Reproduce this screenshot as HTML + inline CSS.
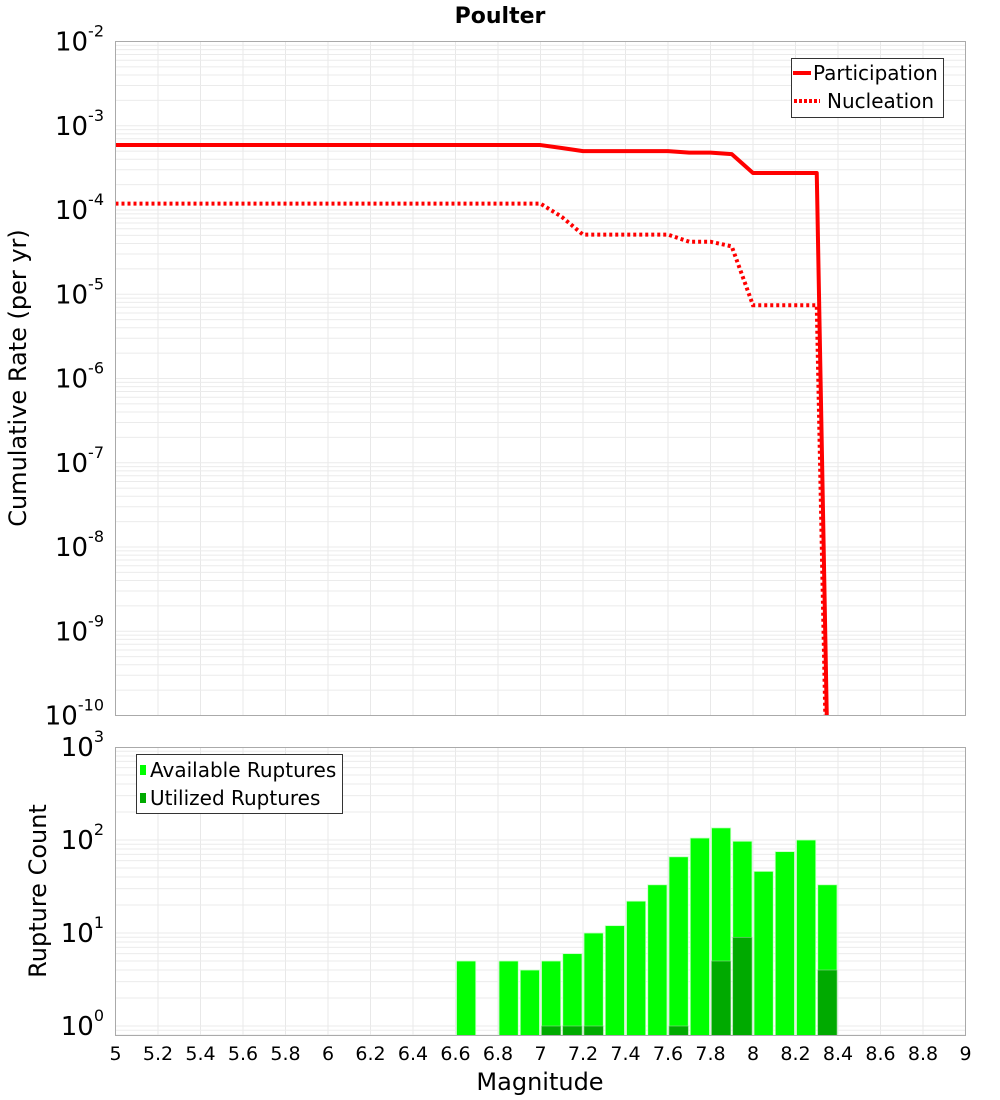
<!DOCTYPE html>
<html><head><meta charset="utf-8">
<style>
html,body{margin:0;padding:0;background:#fff;width:1000px;height:1100px;overflow:hidden;}
svg{display:block;font-family:"DejaVu Sans","Liberation Sans",sans-serif;}
</style></head>
<body>
<svg id="chart" width="1000" height="1100" viewBox="0 0 1000 1100" xmlns="http://www.w3.org/2000/svg">
<text x="500" y="23" text-anchor="middle" font-size="22" font-weight="bold">Poulter</text>
<text transform="translate(26,378) rotate(-90)" text-anchor="middle" font-size="24">Cumulative Rate (per yr)</text>
<text transform="translate(46,891) rotate(-90)" text-anchor="middle" font-size="24">Rupture Count</text>
<text x="540" y="1090" text-anchor="middle" font-size="24">Magnitude</text>
<g id="grid"></g>
<g id="marks"></g>
<g id="axes"></g>
</svg>
<script>
// ---- data ----
const mags = [5.0,5.1,5.2,5.3,5.4,5.5,5.6,5.7,5.8,5.9,6.0,6.1,6.2,6.3,6.4,6.5,6.6,6.7,6.8,6.9,7.0,7.1,7.2,7.3,7.4,7.5,7.6,7.7,7.8,7.9,8.0,8.1,8.2,8.3,8.4];
const participation = [5.9e-4,5.9e-4,5.9e-4,5.9e-4,5.9e-4,5.9e-4,5.9e-4,5.9e-4,5.9e-4,5.9e-4,5.9e-4,5.9e-4,5.9e-4,5.9e-4,5.9e-4,5.9e-4,5.9e-4,5.9e-4,5.9e-4,5.9e-4,5.9e-4,5.45e-4,5.0e-4,5.0e-4,5.0e-4,5.0e-4,5.0e-4,4.8e-4,4.8e-4,4.6e-4,2.75e-4,2.75e-4,2.75e-4,2.75e-4,6e-18];
const nucleation = [1.19e-4,1.19e-4,1.19e-4,1.19e-4,1.19e-4,1.19e-4,1.19e-4,1.19e-4,1.19e-4,1.19e-4,1.19e-4,1.19e-4,1.19e-4,1.19e-4,1.19e-4,1.19e-4,1.19e-4,1.19e-4,1.19e-4,1.19e-4,1.19e-4,8.3e-5,5.1e-5,5.1e-5,5.1e-5,5.1e-5,5.1e-5,4.2e-5,4.2e-5,3.7e-5,7.4e-6,7.4e-6,7.4e-6,7.4e-6,6e-18];
const binCenters = [6.65,6.75,6.85,6.95,7.05,7.15,7.25,7.35,7.45,7.55,7.65,7.75,7.85,7.95,8.05,8.15,8.25,8.35];
const available = [5,0,5,4,5,6,10,12,22,33,66,105,135,97,46,75,100,33];
const utilized = [0,0,0,0,1,1,1,0,0,0,1,0,5,9,0,0,0,4];
const xTicks = ["5","5.2","5.4","5.6","5.8","6","6.2","6.4","6.6","6.8","7","7.2","7.4","7.6","7.8","8","8.2","8.4","8.6","8.8","9"];
const topExps = [-2,-3,-4,-5,-6,-7,-8,-9,-10];
const botExps = [3,2,1,0];

// ---- layout ----
const NS="http://www.w3.org/2000/svg";
const L=115.5,R=965.5,T1=41.5,B1=715.5,T2=747.5,B2=1035.5;
const xS=m=>L+(m-5)/(9-5)*(R-L);
const yTop=v=>T1+(-2-Math.log10(v))/8*(B1-T1);
const dec2=93;
const y0=1026;
const yBot=v=>y0-Math.log10(v)*dec2;
function mk(tag,attrs,parent){const e=document.createElementNS(NS,tag);for(const k in attrs)e.setAttribute(k,attrs[k]);parent.appendChild(e);return e;}
const grid=document.getElementById('grid'),marks=document.getElementById('marks'),axes=document.getElementById('axes');

const defs=mk('defs',{},document.getElementById('chart'));
const c1=mk('clipPath',{id:'c1'},defs);mk('rect',{x:L,y:T1,width:R-L,height:B1-T1},c1);
const c2=mk('clipPath',{id:'c2'},defs);mk('rect',{x:L,y:T2,width:R-L,height:B2-T2},c2);

xTicks.forEach(t=>{const x=xS(parseFloat(t));
  let g=mk('line',{x1:x,x2:x,y1:T1,y2:B1,stroke:'#e8e8e8','stroke-width':1},grid);
  
  g=mk('line',{x1:x,x2:x,y1:T2,y2:B2,stroke:'#e8e8e8','stroke-width':1},grid);
  
});
for(let e=-10;e<-2;e++){for(let k=1;k<10;k++){const y=yTop(k*Math.pow(10,e));
  const g=mk('line',{x1:L,x2:R,y1:y,y2:y,stroke:'#ebebeb','stroke-width':1},grid);
  }}
for(let e=-1;e<3;e++){for(let k=1;k<10;k++){const y=yBot(k*Math.pow(10,e));if(y>B2||y<T2)continue;
  const g=mk('line',{x1:L,x2:R,y1:y,y2:y,stroke:'#ebebeb','stroke-width':1},grid);
  }}

function pathOf(arr){return arr.map((v,i)=>(i?'L':'M')+xS(mags[i]).toFixed(2)+','+yTop(v).toFixed(2)).join(' ');}
const lg=mk('g',{'clip-path':'url(#c1)'},marks);
let p=mk('path',{d:pathOf(participation),fill:'none',stroke:'#ff0000','stroke-width':4,'stroke-linejoin':'round'},lg);

p=mk('path',{d:pathOf(nucleation),fill:'none',stroke:'#ff0000','stroke-width':4,'stroke-dasharray':'3,3'},lg);


const bg=mk('g',{'clip-path':'url(#c2)'},marks);
binCenters.forEach((c,i)=>{
  const x1=xS(c-0.05)+1,x2=xS(c+0.05)-1;
  if(available[i]>0){const y=yBot(available[i]);
    const r=mk('rect',{x:x1,y:y,width:x2-x1,height:B2-y+5,fill:'#00ff00',stroke:'#c8ffc8','stroke-width':0.8},bg);
    }
  if(utilized[i]>0){const y=yBot(utilized[i]);
    const r=mk('rect',{x:x1,y:y,width:x2-x1,height:B2-y+5,fill:'#00aa00',stroke:'#8fd88f','stroke-width':0.6},bg);
    }
});

let f=mk('rect',{x:L,y:T1,width:R-L,height:B1-T1,fill:'none',stroke:'#aaaaaa','stroke-width':1},axes);

f=mk('rect',{x:L,y:T2,width:R-L,height:B2-T2,fill:'none',stroke:'#aaaaaa','stroke-width':1},axes);


xTicks.forEach(t=>{const tx=mk('text',{x:xS(parseFloat(t)),y:1060,'text-anchor':'middle','font-size':19},axes);tx.textContent=t;
  });
function ylab(y,e,name){const tx=mk('text',{x:104,y:y+9,'text-anchor':'end','font-size':26},axes);
  
  const a=mk('tspan',{},tx);a.textContent='10';
  const b=mk('tspan',{dy:-14,'font-size':16},tx);b.textContent=String(e);}
topExps.forEach(e=>ylab(yTop(Math.pow(10,e)),e,'top-y-tick-label'));
botExps.forEach(e=>ylab(yBot(Math.pow(10,e)),e,'bottom-y-tick-label'));

const l1=mk('g',{},axes);
mk('rect',{x:791.5,y:58.5,width:152,height:59,fill:'#fff',stroke:'#333','stroke-width':1},l1);
mk('line',{x1:793,x2:811,y1:73,y2:73,stroke:'#ff0000','stroke-width':4},l1);
let t=mk('text',{x:813,y:80,'font-size':20},l1);t.textContent='Participation';

mk('line',{x1:794,x2:820,y1:101,y2:101,stroke:'#ff0000','stroke-width':4,'stroke-dasharray':'3,2'},l1);
t=mk('text',{x:827,y:108,'font-size':20},l1);t.textContent='Nucleation';


const l2=mk('g',{},axes);
mk('rect',{x:136.5,y:754.5,width:206,height:59,fill:'#fff',stroke:'#333','stroke-width':1},l2);
mk('rect',{x:140,y:765,width:6,height:10,fill:'#00ff00'},l2);
t=mk('text',{x:150,y:777,'font-size':20},l2);t.textContent='Available Ruptures';

mk('rect',{x:140,y:793,width:6,height:10,fill:'#00aa00'},l2);
t=mk('text',{x:150,y:805,'font-size':20},l2);t.textContent='Utilized Ruptures';

</script>
</body></html>
